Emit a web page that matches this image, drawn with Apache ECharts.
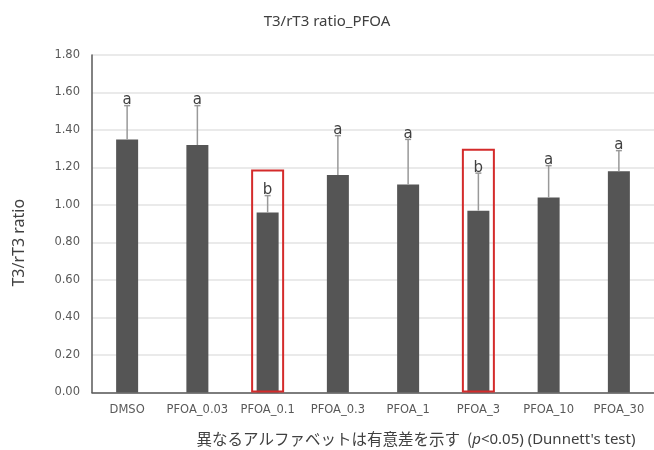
<!DOCTYPE html>
<html>
<head>
<meta charset="utf-8">
<script src="https://cdn.jsdelivr.net/npm/echarts@6/dist/echarts.min.js"></script>
<style>html,body{margin:0;padding:0;background:#fff;}#c{width:654px;height:450px;}</style>
</head>
<body>
<div id="c"></div>
<script>
const categories = ['DMSO','PFOA_0.03','PFOA_0.1','PFOA_0.3','PFOA_1','PFOA_3','PFOA_10','PFOA_30'];
const means = [1.35, 1.32, 0.96, 1.16, 1.11, 0.97, 1.04, 1.18];
const errTop = [1.53, 1.53, 1.05, 1.37, 1.35, 1.17, 1.21, 1.29];
const letters = ['a','a','b','a','a','b','a','a'];
const boxTop = [null, null, 1.19, null, null, 1.30, null, null];
const yTicks = { min: 0, max: 1.8, interval: 0.2 };

const chart = echarts.init(document.getElementById('c'));
const font = '"Noto Sans", "Noto Sans CJK JP", sans-serif';
const tickFont = '"DejaVu Sans", sans-serif';
chart.setOption({
  animation: false,
  backgroundColor: '#fff',
  title: {
    text: 'T3/rT3 ratio_PFOA', left: 'center', top: 9,
    textStyle: { fontFamily: font, fontSize: 15, fontWeight: 'normal', color: '#404040' }
  },
  grid: { left: 92, right: 0, top: 55, bottom: 57.5, outerBoundsMode: 'none', containLabel: false },
  xAxis: [{
    type: 'category', data: categories,
    axisLine: { lineStyle: { color: '#595959', width: 1.5 } },
    axisTick: { show: false },
    axisLabel: { fontFamily: tickFont, fontSize: 11.5, color: '#595959', margin: 12, interval: 0 },
    name: '{jp|異なるアルファベットは有意差を示す  (}{it|p}{en|<0.05) (Dunnett\'s test)}',
    nameLocation: 'middle', nameGap: 39,
    nameTextStyle: {
      padding: [0, 0, 0, 86],
      rich: {
        jp: { fontFamily: '"Noto Sans CJK JP", sans-serif', fontSize: 15.5, color: '#404040' },
        en: { fontFamily: font, fontSize: 15, color: '#404040' },
        it: { fontFamily: font, fontSize: 15, color: '#404040', fontStyle: 'italic' }
      }
    }
  }, {
    type: 'category', data: categories, show: false
  }],
  yAxis: {
    type: 'value', min: yTicks.min, max: yTicks.max, interval: yTicks.interval,
    axisLine: { show: true, lineStyle: { color: '#595959', width: 1.5 } },
    axisTick: { show: false },
    axisLabel: { fontFamily: tickFont, fontSize: 11.5, color: '#595959', margin: 12, formatter: v => v.toFixed(2) },
    splitLine: { lineStyle: { color: '#e3e3e3', width: 1.5 } },
    name: 'T3/rT3 ratio', nameLocation: 'middle', nameGap: 65, nameRotate: 90,
    nameTextStyle: { fontFamily: font, fontSize: 16, color: '#404040', padding: [0, 38, 0, 0] }
  },
  series: [{
    type: 'bar', data: means, barWidth: 22, xAxisIndex: 0,
    itemStyle: { color: '#555555' }, z: 2
  }, {
    type: 'custom', xAxisIndex: 0, z: 3,
    data: categories.map((c, i) => [i, means[i], errTop[i]]),
    renderItem: function (params, api) {
      const x = api.value(0);
      const p0 = api.coord([x, api.value(1)]);
      const p1 = api.coord([x, api.value(2)]);
      const st = { stroke: '#999999', lineWidth: 1.5 };
      return {
        type: 'group', children: [
          { type: 'line', shape: { x1: p0[0], y1: p0[1], x2: p1[0], y2: p1[1] }, style: st },
          { type: 'line', shape: { x1: p1[0] - 3, y1: p1[1], x2: p1[0] + 3, y2: p1[1] }, style: st },
          { type: 'text', style: { text: letters[params.dataIndex], x: p1[0], y: p1[1] + 2, align: 'center', verticalAlign: 'bottom',
              fontFamily: tickFont, fontSize: 15, fill: '#404040' } }
        ]
      };
    }
  }, {
    type: 'bar', data: boxTop, barWidth: 33, xAxisIndex: 1, z: 4,
    itemStyle: { color: 'rgba(0,0,0,0)', borderColor: '#d42b2b', borderWidth: 2 }
  }]
});
</script>
</body>
</html>
